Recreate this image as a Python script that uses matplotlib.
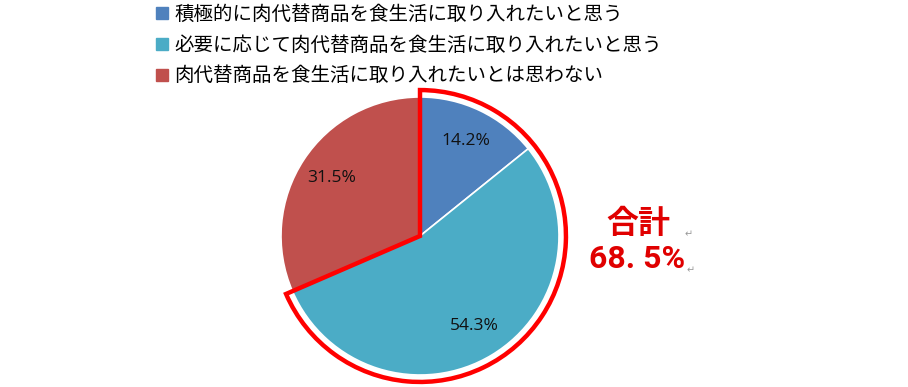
import matplotlib
matplotlib.use("Agg")
import matplotlib.pyplot as plt
from matplotlib.patches import Wedge
from matplotlib.lines import Line2D

plt.rcParams['font.family'] = ['Noto Sans CJK JP', 'DejaVu Sans']

labels = ["積極的に肉代替商品を食生活に取り入れたいと思う",
          "必要に応じて肉代替商品を食生活に取り入れたいと思う",
          "肉代替商品を食生活に取り入れたいとは思わない"]
values = [14.2, 54.3, 31.5]
colors = ["#4F81BD", "#4BACC6", "#C0504D"]
total_label = "合計"
total_value = "68. 5%"

W, H = 908, 387
fig = plt.figure(figsize=(W / 100, H / 100), dpi=100)
cx, cy, r = 420, 236, 139
k = 1.12
ax = fig.add_axes([(cx - r * k) / W, (H - cy - r * k) / H, 2 * r * k / W, 2 * r * k / H])
wedges, texts, autotexts = ax.pie(values, colors=colors, startangle=90, counterclock=False,
                                  autopct='%.1f%%', pctdistance=0.76,
                                  wedgeprops=dict(edgecolor='white', linewidth=1.2),
                                  textprops=dict(fontsize=12.5, color='#111111'))
for t in autotexts:
    t.set_family(['Open Sans', 'DejaVu Sans'])
ax.set_xlim(-k, k)
ax.set_ylim(-k, k)
ax.set_aspect('equal')
ax.axis('off')

# highlight outline around first two slices
frac = (values[0] + values[1]) / sum(values)
theta_end = 90 - frac * 360
outline = Wedge((0, 0), 1.05, theta_end, 90, fill=False, edgecolor='#FF0000', linewidth=3.2,
                joinstyle='miter', clip_on=False)
ax.add_patch(outline)

handles = [Line2D([0], [0], marker='s', linestyle='none', markersize=8,
                  markerfacecolor=c, markeredgecolor=c) for c in colors]
fig.legend(handles, labels, loc='upper left', bbox_to_anchor=(150 / W, 0.995),
           frameon=False, fontsize=14, handletextpad=0.15, labelspacing=0.5,
           handlelength=1.0, borderaxespad=0.0, borderpad=0.1)

fig.text(638 / W, 1 - 224 / H, total_label, color='#E00000', fontsize=23, fontweight='bold',
         ha='center', va='center')
fig.text(637 / W, 1 - 259 / H, total_value, color='#E00000', fontsize=23, fontweight='bold',
         ha='center', va='center', family=['Roboto', 'DejaVu Sans'])
fig.text(689 / W, 1 - 234 / H, "↵", color='#999999', fontsize=7, ha='center', va='center',
         family=['DejaVu Sans'])
fig.text(691 / W, 1 - 270 / H, "↵", color='#999999', fontsize=7, ha='center', va='center',
         family=['DejaVu Sans'])

fig.savefig("out.png", dpi=100, facecolor='white')
